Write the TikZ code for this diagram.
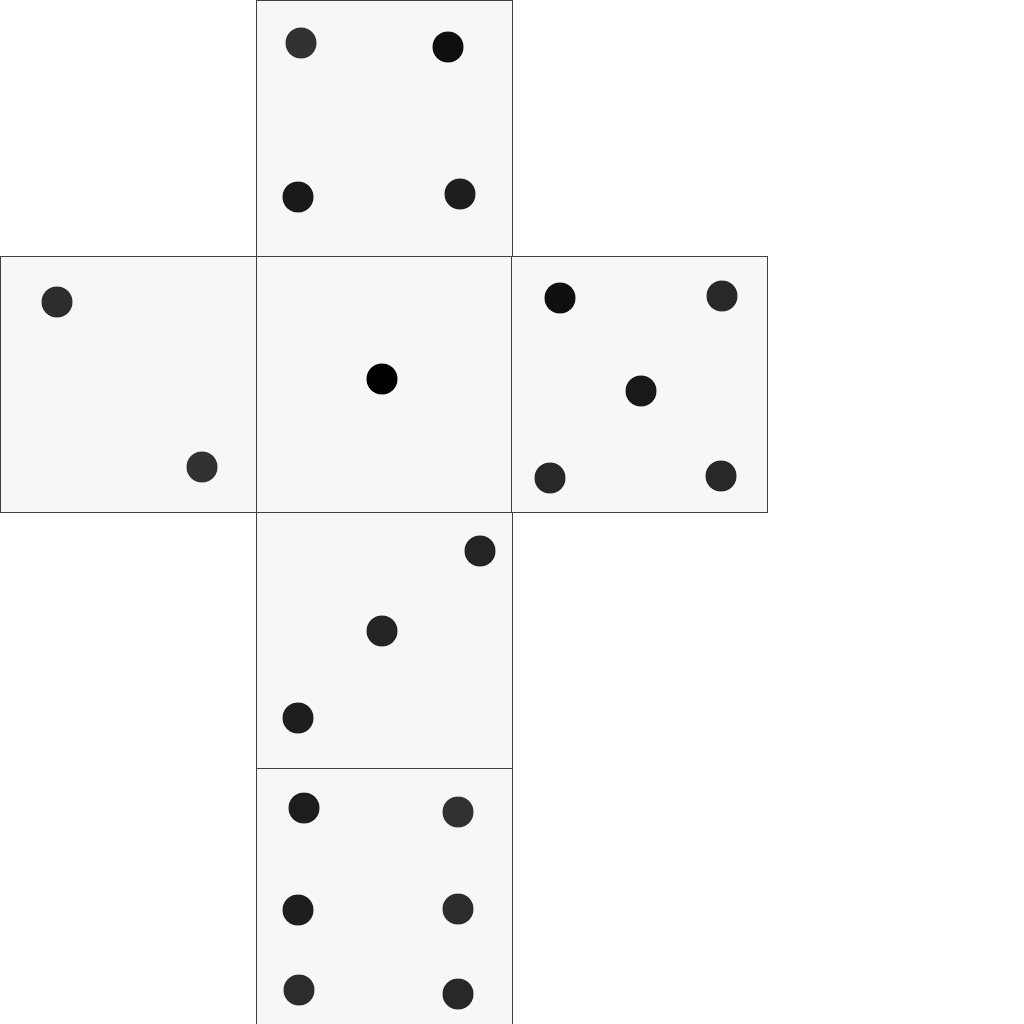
\documentclass[tikz,border=0pt]{standalone}
\definecolor{facefill}{RGB}{247,247,247}
\definecolor{pipA}{RGB}{15,15,15}
\definecolor{pipB}{RGB}{25,25,25}
\definecolor{pipC}{RGB}{30,30,30}
\definecolor{pipD}{RGB}{36,36,36}
\definecolor{pipE}{RGB}{40,40,40}
\definecolor{pipF}{RGB}{45,45,45}
\definecolor{pipG}{RGB}{50,50,50}
\begin{document}
\begin{tikzpicture}[x=0.01cm,y=-0.01cm,
  face/.style={draw=black!75,line width=0.25pt,fill=facefill,minimum size=2.56cm,inner sep=0pt,outer sep=0pt,anchor=north west},
  pip/.style={circle,fill=#1,draw=none,minimum size=0.31cm,inner sep=0pt},
  pip/.default=pipD]
\useasboundingbox (0,0) rectangle (1024,1024);
% faces
\node[face] (ftop) at (256,0) {};
\node[face] (fleft) at (0,256) {};
\node[face] (fcenter) at (256,256) {};
\node[face] (fright) at (511,256) {};
\node[face] (fbelow) at (256,512) {};
\node[face] (fbottom) at (256,768) {};
% top face: four
\node[pip=pipG] (t1) at (301,43) {};
\node[pip=pipA] (t2) at (448,47) {};
\node[pip=pipB] (t3) at (298,197) {};
\node[pip=pipC] (t4) at (460,194) {};
% left face: two
\node[pip=pipF] (l1) at (57,302) {};
\node[pip=pipG] (l2) at (202,467) {};
% center face: one
\node[pip=black] (c1) at (382,379) {};
% right face: five
\node[pip=pipA] (r1) at (560,298) {};
\node[pip=pipE] (r2) at (722,296) {};
\node[pip=pipB] (r3) at (641,391) {};
\node[pip=pipE] (r4) at (550,478) {};
\node[pip=pipE] (r5) at (721,476) {};
% below face: three
\node[pip] (b1) at (480,551) {};
\node[pip] (b2) at (382,631) {};
\node[pip=pipC] (b3) at (298,718) {};
% bottom face: six
\node[pip=pipC] (s1) at (304,808) {};
\node[pip=pipG] (s2) at (458,812) {};
\node[pip=pipC] (s3) at (298,910) {};
\node[pip=pipF] (s4) at (458,909) {};
\node[pip=pipF] (s5) at (299,990) {};
\node[pip=pipE] (s6) at (458,994) {};
\end{tikzpicture}
\end{document}
